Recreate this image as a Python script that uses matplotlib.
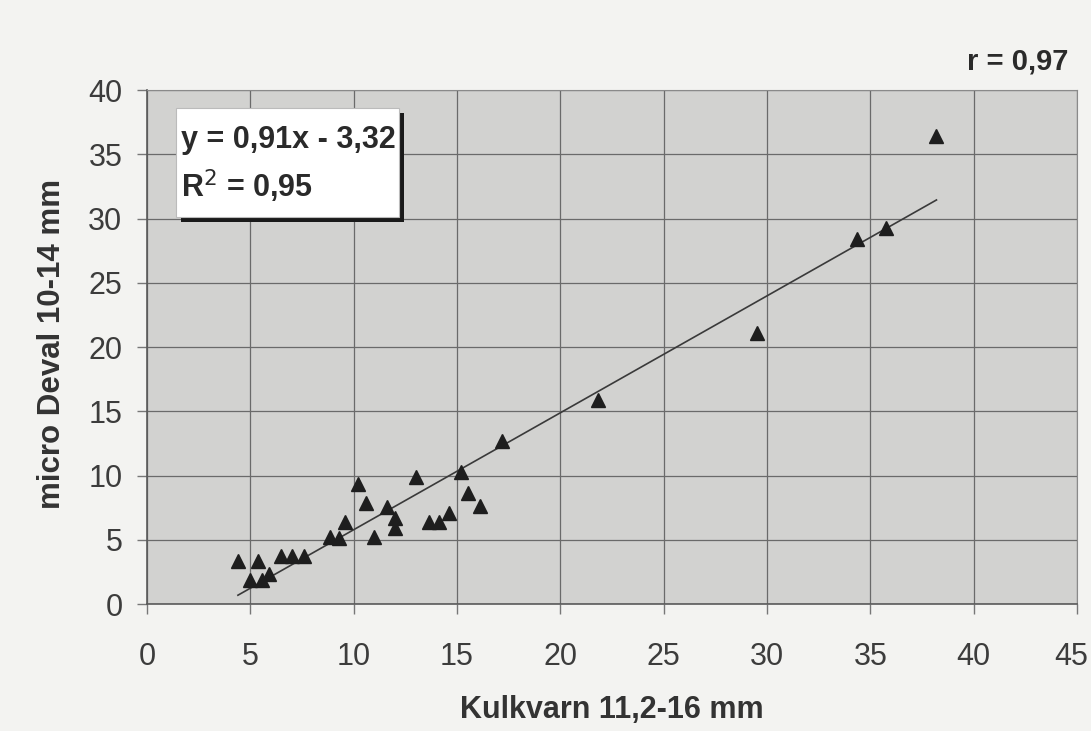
import matplotlib
matplotlib.use("Agg")
import matplotlib.pyplot as plt
from matplotlib.patches import Rectangle
from matplotlib.transforms import ScaledTranslation
import numpy as np

plt.rcParams['font.family'] = ['Liberation Sans', 'DejaVu Sans']

# Kulkvarn 11,2-16 mm vs micro Deval 10-14 mm
kulkvarn = [4.4, 5.35, 5.0, 5.55, 5.9, 6.5, 7.0, 7.6, 8.85, 9.3, 9.6,
            10.2, 10.6, 11.0, 11.6, 12.0, 12.0, 13.0, 13.65, 14.15, 14.6,
            15.2, 15.55, 16.1, 17.2, 21.8, 29.5, 34.35, 35.75, 38.2]
micro_deval = [3.35, 3.35, 1.85, 1.85, 2.35, 3.7, 3.7, 3.7, 5.2, 5.15, 6.35,
               9.35, 7.85, 5.2, 7.55, 6.7, 5.95, 9.85, 6.35, 6.35, 7.05,
               10.3, 8.65, 7.65, 12.65, 15.9, 21.1, 28.4, 29.25, 36.4]

slope = 0.91
intercept = -3.32
r_squared = 0.95
r_value = 0.97

x_ticks = [0, 5, 10, 15, 20, 25, 30, 35, 40, 45]
y_ticks = [0, 5, 10, 15, 20, 25, 30, 35, 40]

W, H = 1091, 731
fig = plt.figure(figsize=(W / 100, H / 100), dpi=100, facecolor='#f3f3f1')
ax = fig.add_axes([147 / W, 1 - 604 / H, (1077 - 147) / W, (604 - 90) / H])
ax.set_facecolor('#d2d2d0')

ax.set_xlim(0, 45)
ax.set_ylim(0, 40)
ax.set_xticks(x_ticks)
ax.set_yticks(y_ticks)
ax.grid(True, color='#6a6a6a', linewidth=0.9)
ax.set_axisbelow(True)
for side in ['top', 'right']:
    ax.spines[side].set_color('#8a8a8a')
for side in ['left', 'bottom']:
    ax.spines[side].set_color('#5a5a5a')
    ax.spines[side].set_linewidth(1.2)

ax.tick_params(axis='both', direction='out', length=7.2, width=1, color='#777777',
               labelsize=22, labelcolor='#3c3c3c')
ax.tick_params(axis='x', pad=20)
ax.tick_params(axis='y', pad=10.5)

# nudge the last x tick label inward a little at the figure edge
last_label = ax.get_xticklabels()[-1]
last_label.set_transform(last_label.get_transform()
                         + ScaledTranslation(-6 / 100, 0, fig.dpi_scale_trans))

# linear trend line across the data range
xs = np.array([min(kulkvarn), max(kulkvarn)])
ax.plot(xs, slope * xs + intercept, color='#3a3a3a', linewidth=1.2, zorder=3)

ax.plot(kulkvarn, micro_deval, linestyle='none', marker='^', markersize=10,
        color='#1e1e1e', zorder=4)

ax.set_xlabel('Kulkvarn 11,2-16 mm', fontsize=22, fontweight='bold', color='#333333')
ax.set_ylabel('micro Deval 10-14 mm', fontsize=22.5, fontweight='bold', color='#333333')
ax.xaxis.label.set_va('center')
ax.yaxis.label.set_va('center')
ax.xaxis.set_label_coords(0.5, (604 - 710) / (604 - 90))
ax.yaxis.set_label_coords((52 - 147) / (1077 - 147), (604 - 344) / (604 - 90))

# equation box with drop shadow
bx0, by0, bw, bh = 176 / W, 1 - 217 / H, (399 - 176) / W, (217 - 108) / H
shadow = Rectangle((bx0 + 5 / W, by0 - 5 / H), bw, bh, transform=fig.transFigure,
                   facecolor='#1a1a1a', edgecolor='none', zorder=5)
box = Rectangle((bx0, by0), bw, bh, transform=fig.transFigure,
                facecolor='white', edgecolor='#bbbbbb', linewidth=0.8, zorder=6)
fig.patches.extend([shadow, box])

eq_text = f'y = {slope:.2f}x - {abs(intercept):.2f}'.replace('.', ',')
r2_text = f'R$^2$ = {r_squared:.2f}'.replace('.', ',')
fig.text(181 / W, 1 - 140 / H, eq_text, fontsize=22, fontweight='bold',
         color='#2a2a2a', va='center', ha='left', zorder=7)
fig.text(181 / W, 1 - 186 / H, r2_text, fontsize=22, fontweight='bold',
         color='#2a2a2a', va='center', ha='left', zorder=7)

fig.text(1068 / W, 1 - 61 / H, f'r = {r_value:.2f}'.replace('.', ','),
         fontsize=21, fontweight='bold', color='#2a2a2a', ha='right', va='center')

fig.savefig('out.png', dpi=100, facecolor=fig.get_facecolor())
